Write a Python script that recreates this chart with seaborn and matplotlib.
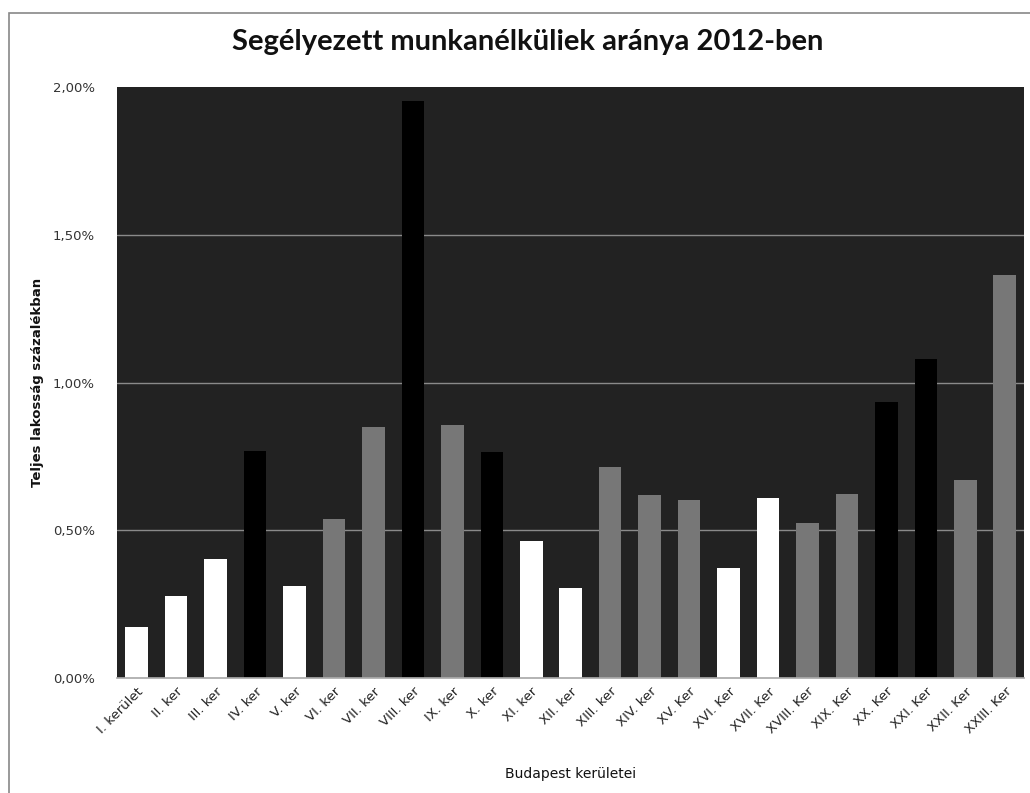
import matplotlib
matplotlib.use("Agg")
import matplotlib.pyplot as plt
import matplotlib.ticker as mticker
from matplotlib.patches import Rectangle
import seaborn as sns

districts = ["I. kerület", "II. ker", "III. ker", "IV. ker", "V. ker", "VI. ker",
             "VII. ker", "VIII. ker", "IX. ker", "X. ker", "XI. ker", "XII. ker",
             "XIII. ker", "XIV. ker", "XV. Ker", "XVI. Ker", "XVII. Ker",
             "XVIII. Ker", "XIX. Ker", "XX. Ker", "XXI. Ker", "XXII. Ker", "XXIII. Ker"]
rates = [0.172, 0.277, 0.404, 0.768, 0.313, 0.54, 0.849, 1.954, 0.855, 0.765,
         0.463, 0.305, 0.716, 0.62, 0.604, 0.373, 0.608, 0.526, 0.624, 0.935,
         1.08, 0.67, 1.365]
bar_colors = ["#ffffff", "#ffffff", "#ffffff", "#000000", "#ffffff", "#777777",
              "#777777", "#000000", "#777777", "#000000", "#ffffff", "#ffffff",
              "#777777", "#777777", "#777777", "#ffffff", "#ffffff", "#777777",
              "#777777", "#000000", "#000000", "#777777", "#777777"]
yticks = [0, 0.5, 1.0, 1.5, 2.0]

sns.set_theme(style="white")
plt.rcParams['font.family'] = ['DejaVu Sans']

fig = plt.figure(figsize=(10.3, 7.93), dpi=100)
ax = fig.add_axes([0.1136, 0.145, 0.881, 0.745])
ax.set_facecolor("#222222")

sns.barplot(x=districts, y=rates, hue=districts, palette=bar_colors,
            saturation=1, width=0.57, legend=False, ax=ax, zorder=3,
            linewidth=0, edgecolor="none")

ax.set_ylim(0, 2.0)
ax.set_xlim(-0.5, len(districts) - 0.5)
ax.set_yticks(yticks)
ax.yaxis.set_major_formatter(mticker.FuncFormatter(lambda v, p: f"{v:.2f}%".replace(".", ",")))
for v in yticks[1:-1]:
    ax.axhline(v, color="#8a8a8a", linewidth=1, zorder=1)

for s in ["top", "right", "left"]:
    ax.spines[s].set_visible(False)
ax.spines["bottom"].set_color("#aaaaaa")
ax.spines["bottom"].set_zorder(4)

ax.tick_params(axis="y", length=0, pad=16, labelsize=9.5, labelcolor="#333333")
ax.tick_params(axis="x", length=0, pad=5, labelsize=9.5, labelcolor="#222222")
plt.setp(ax.get_xticklabels(), rotation=45, ha="right", rotation_mode="anchor")

ax.set_xlabel("Budapest kerületei", fontsize=10, labelpad=22, color="#111111")
ax.set_ylabel("Teljes lakosság százalékban", fontsize=9.5, fontweight="bold",
              labelpad=6, color="#111111")

fig.text(0.512, 0.947, "Segélyezett munkanélküliek aránya 2012-ben",
         ha="center", va="center", fontsize=21, fontweight="bold",
         family=["Lato", "DejaVu Sans"], color="#111111")

# chart frame
fig.add_artist(Rectangle((9 / 1030, -0.1), 1.2, 1.1 - 13 / 793,
                         transform=fig.transFigure, fill=False,
                         edgecolor="#888888", linewidth=1.2))

fig.savefig("out.png", dpi=100)
plt.close()
